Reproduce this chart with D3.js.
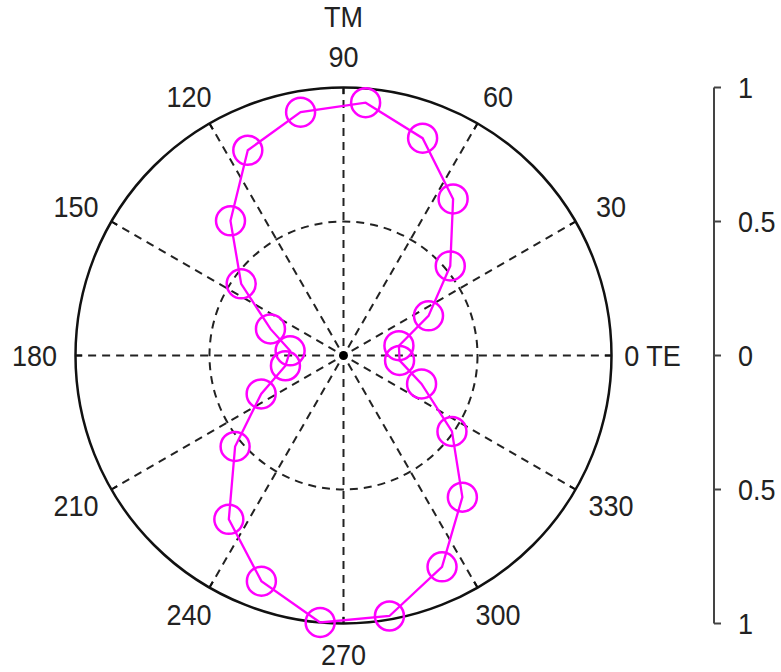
<!DOCTYPE html>
<html>
<head>
<meta charset="utf-8">
<script src="https://cdn.jsdelivr.net/npm/d3@7"></script>
<style>
  html, body { margin: 0; padding: 0; background: #fff; }
  svg text { font-family: "Liberation Sans", Arial, sans-serif; fill: #222; }
</style>
</head>
<body>
<svg id="chart" width="781" height="672"></svg>
<script>
// Measured angles (degrees) and normalised intensity
const angles = [10, 25, 40, 55, 70, 85, 100, 115, 130, 145, 160, 175,
                190, 205, 220, 235, 250, 265, 280, 295, 310, 325, 340, 355];
const values = [0.21, 0.35, 0.52, 0.713, 0.863, 0.947, 0.922, 0.845, 0.656, 0.466, 0.29, 0.20,
                0.22, 0.339, 0.528, 0.746, 0.896, 1.0, 0.987, 0.87, 0.69, 0.494, 0.31, 0.21];
const spokeAngles = [0, 30, 60, 90, 120, 150, 180, 210, 240, 270, 300, 330];
const spokeLabels = ["0 TE", "30", "60", "90", "120", "150", "180", "210", "240", "270", "300", "330"];
const ringValues = [0.5];
const barTicks = [-1, -0.5, 0, 0.5, 1];
const barTickLabels = ["1", "0.5", "0", "0.5", "1"];

const svg = d3.select("#chart");
const cx = 343.5, cy = 355.5, R = 268;
const fontSize = 30;
const squeeze = 0.9;   // slightly condensed lettering
const r = d3.scaleLinear().domain([0, 1]).range([0, R]);
const rad = d => d * Math.PI / 180;
// polar -> screen (angle counter-clockwise from east)
const px = (deg, rv) => cx + r(rv) * Math.cos(rad(deg));
const py = (deg, rv) => cy - r(rv) * Math.sin(rad(deg));
const place = (x, y) => `translate(${x},${y}) scale(${squeeze},1)`;

const g = svg.append("g");

// Outer boundary
g.append("circle").attr("cx", cx).attr("cy", cy).attr("r", r(1))
  .attr("fill", "none").attr("stroke", "#111").attr("stroke-width", 2.5);

// Dashed inner ring
g.selectAll("circle.ring").data(ringValues).enter().append("circle")
  .attr("class", "ring").attr("cx", cx).attr("cy", cy).attr("r", d => r(d))
  .attr("fill", "none").attr("stroke", "#222").attr("stroke-width", 2)
  .attr("stroke-dasharray", "8,6");

// Dashed spokes
g.selectAll("line.spoke").data(spokeAngles).enter().append("line")
  .attr("class", "spoke")
  .attr("x1", d => px(d, 0.035)).attr("y1", d => py(d, 0.035))
  .attr("x2", d => px(d, 1)).attr("y2", d => py(d, 1))
  .attr("stroke", "#222").attr("stroke-width", 2)
  .attr("stroke-dasharray", "8,6");

// Small solid ticks where spokes meet the boundary
g.selectAll("line.tick").data(spokeAngles).enter().append("line")
  .attr("x1", d => px(d, 0.975)).attr("y1", d => py(d, 0.975))
  .attr("x2", d => px(d, 1)).attr("y2", d => py(d, 1))
  .attr("stroke", "#111").attr("stroke-width", 2);

// Centre dot
g.append("circle").attr("cx", cx).attr("cy", cy).attr("r", 4.5).attr("fill", "#000");

// Angle labels
const Lx = 309, Ly = 299;
g.selectAll("text.alab").data(spokeAngles).enter().append("text")
  .attr("transform", d => place(cx + Lx * Math.cos(rad(d)),
                                cy - Ly * Math.sin(rad(d)) + fontSize * 0.36))
  .attr("text-anchor", "middle")
  .attr("font-size", fontSize)
  .text((d, i) => spokeLabels[i]);

// "TM" caption above the 90 label
g.append("text").attr("transform", place(cx, cy - Ly - 40 + fontSize * 0.36))
  .attr("text-anchor", "middle").attr("font-size", fontSize).text("TM");

// Data curve
const pts = angles.map((a, i) => ({ a, v: values[i] }));
const line = d3.lineRadial()
  .angle(d => Math.PI / 2 - rad(d.a))
  .radius(d => r(d.v))
  .curve(d3.curveLinearClosed);
g.append("path").attr("transform", `translate(${cx},${cy})`)
  .attr("d", line(pts))
  .attr("fill", "none").attr("stroke", "#ff00ff").attr("stroke-width", 2.3);

g.selectAll("circle.mk").data(pts).enter().append("circle")
  .attr("class", "mk")
  .attr("cx", d => px(d.a, d.v)).attr("cy", d => py(d.a, d.v))
  .attr("r", 14.5)
  .attr("fill", "none").attr("stroke", "#ff00ff").attr("stroke-width", 2.5);

// Radial scale bar on the right
const barX = 714;
const y = d3.scaleLinear().domain([-1, 1]).range([cy + R, cy - R]);
const bar = svg.append("g");
bar.append("line").attr("x1", barX).attr("x2", barX)
  .attr("y1", y(1)).attr("y2", y(-1))
  .attr("stroke", "#444").attr("stroke-width", 2);
bar.selectAll("line.bt").data(barTicks).enter().append("line")
  .attr("x1", barX).attr("x2", barX + 7)
  .attr("y1", d => y(d)).attr("y2", d => y(d))
  .attr("stroke", "#444").attr("stroke-width", 2);
bar.selectAll("text.bl").data(barTicks).enter().append("text")
  .attr("transform", d => place(barX + 24, y(d) + fontSize * 0.36))
  .attr("font-size", fontSize)
  .text((d, i) => barTickLabels[i]);
</script>
</body>
</html>
